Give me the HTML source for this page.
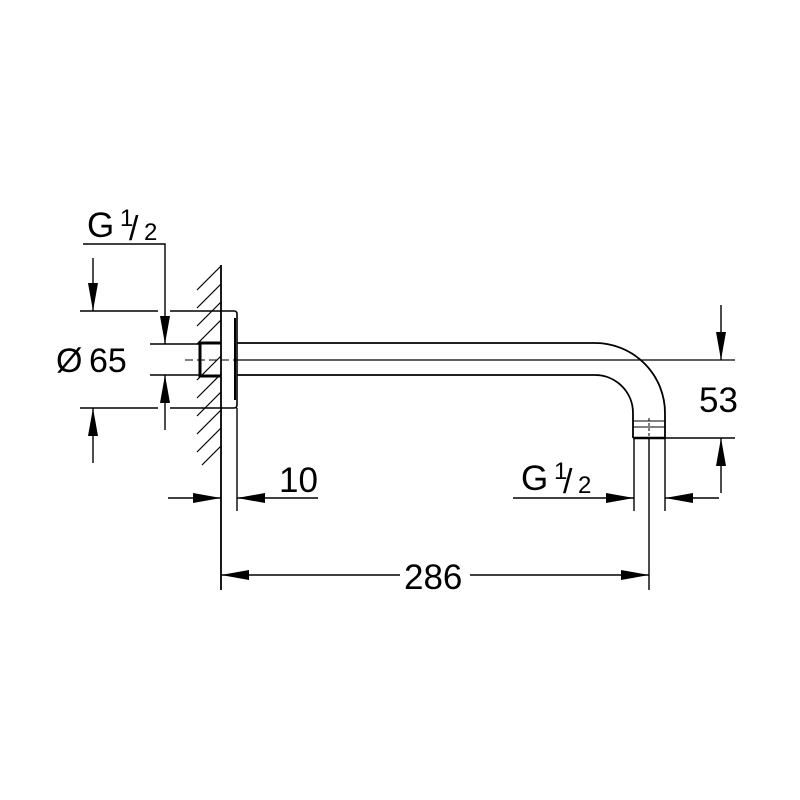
<!DOCTYPE html>
<html><head><style>html,body{margin:0;padding:0;background:#fff;}svg{display:block}</style></head>
<body>
<svg width="800" height="800" viewBox="0 0 800 800" xmlns="http://www.w3.org/2000/svg">
<defs>
<marker id="a" viewBox="0 0 28 10" refX="28" refY="5" markerWidth="28" markerHeight="10" markerUnits="userSpaceOnUse" orient="auto">
<path d="M0,0 L28,5 L0,10 Z" fill="#000"/></marker>
</defs>
<g stroke="#000" fill="none" stroke-width="1.4">
<g stroke-width="1.2">
<line x1="197" y1="290" x2="221" y2="266"/>
<line x1="197" y1="308" x2="221" y2="284"/>
<line x1="197" y1="326" x2="221" y2="302"/>
<line x1="197" y1="344" x2="221" y2="320"/>
<line x1="197" y1="380" x2="221" y2="356"/>
<line x1="197" y1="398" x2="221" y2="374"/>
<line x1="197" y1="416" x2="221" y2="392"/>
<line x1="197" y1="434" x2="221" y2="410"/>
<line x1="197" y1="452" x2="221" y2="428"/>
<line x1="202" y1="465" x2="221" y2="446"/>
</g>
<line x1="221" y1="265" x2="221" y2="590" stroke-width="1.8"/>
<path d="M221,311 H234 Q237,311 237,314 V405 Q237,408 234,408 H221" stroke-width="1.6"/>
<line x1="235" y1="318" x2="235" y2="400" stroke-width="2"/>
<line x1="237" y1="408" x2="237" y2="511"/>
<path d="M221,343 H200 V376 H221" stroke-width="3"/>
<path d="M237,343 H595 A70,70 0 0 1 665,413 V438" stroke-width="1.8"/>
<path d="M237,375 H595 A38,38 0 0 1 633,413 V438" stroke-width="1.8"/>
<line x1="633" y1="438" x2="665" y2="438" stroke-width="2.5"/>
<line x1="633" y1="421" x2="665" y2="421" stroke-width="1"/>
<line x1="633" y1="427" x2="665" y2="427" stroke-width="1"/>
<line x1="634" y1="438" x2="634" y2="511"/>
<line x1="665" y1="438" x2="665" y2="511"/>
<line x1="649" y1="418" x2="649" y2="438" stroke-dasharray="3,2" stroke-width="1"/>
<line x1="649" y1="438" x2="649" y2="590"/>
<line x1="185" y1="360" x2="237" y2="360" stroke-dasharray="8,4" stroke-width="1"/>
<line x1="237" y1="360" x2="735" y2="360" stroke-width="1.2"/>
<polyline points="83,244 165,244 165,344" marker-end="url(#a)"/>
<line x1="165" y1="430" x2="165" y2="375" marker-end="url(#a)"/>
<line x1="80" y1="311" x2="158" y2="311"/>
<line x1="170" y1="311" x2="221" y2="311"/>
<line x1="80" y1="408" x2="158" y2="408"/>
<line x1="170" y1="408" x2="221" y2="408"/>
<line x1="150" y1="344" x2="200" y2="344"/>
<line x1="150" y1="375" x2="200" y2="375"/>
<line x1="93" y1="258" x2="93" y2="311" marker-end="url(#a)"/>
<line x1="93" y1="463" x2="93" y2="408" marker-end="url(#a)"/>
<line x1="168" y1="498" x2="221" y2="498" marker-end="url(#a)"/>
<line x1="318" y1="498" x2="237" y2="498" marker-end="url(#a)"/>
<line x1="400" y1="575" x2="221" y2="575" marker-end="url(#a)"/>
<line x1="470" y1="575" x2="649" y2="575" marker-end="url(#a)"/>
<line x1="513" y1="498" x2="634" y2="498" marker-end="url(#a)"/>
<line x1="719" y1="498" x2="665" y2="498" marker-end="url(#a)"/>
<line x1="665" y1="438" x2="735" y2="438"/>
<line x1="721" y1="305" x2="721" y2="360" marker-end="url(#a)"/>
<line x1="721" y1="493" x2="721" y2="438" marker-end="url(#a)"/>
</g>
<g font-family="Liberation Sans, sans-serif" fill="#000">
<text x="87" y="237" font-size="35">G</text>
<text x="120" y="226" font-size="24">1</text>
<text x="129" y="240" font-size="34">/</text>
<text x="144" y="240" font-size="24">2</text>
<text x="56" y="372" font-size="34">Ø</text>
<text x="89" y="372" font-size="34">65</text>
<text x="279" y="492" font-size="35">10</text>
<text x="404" y="589" font-size="35">286</text>
<text x="699" y="412" font-size="35">53</text>
<text x="521" y="490" font-size="35">G</text>
<text x="554" y="479" font-size="24">1</text>
<text x="563" y="493" font-size="34">/</text>
<text x="578" y="493" font-size="24">2</text>
</g>
</svg>
</body></html>
